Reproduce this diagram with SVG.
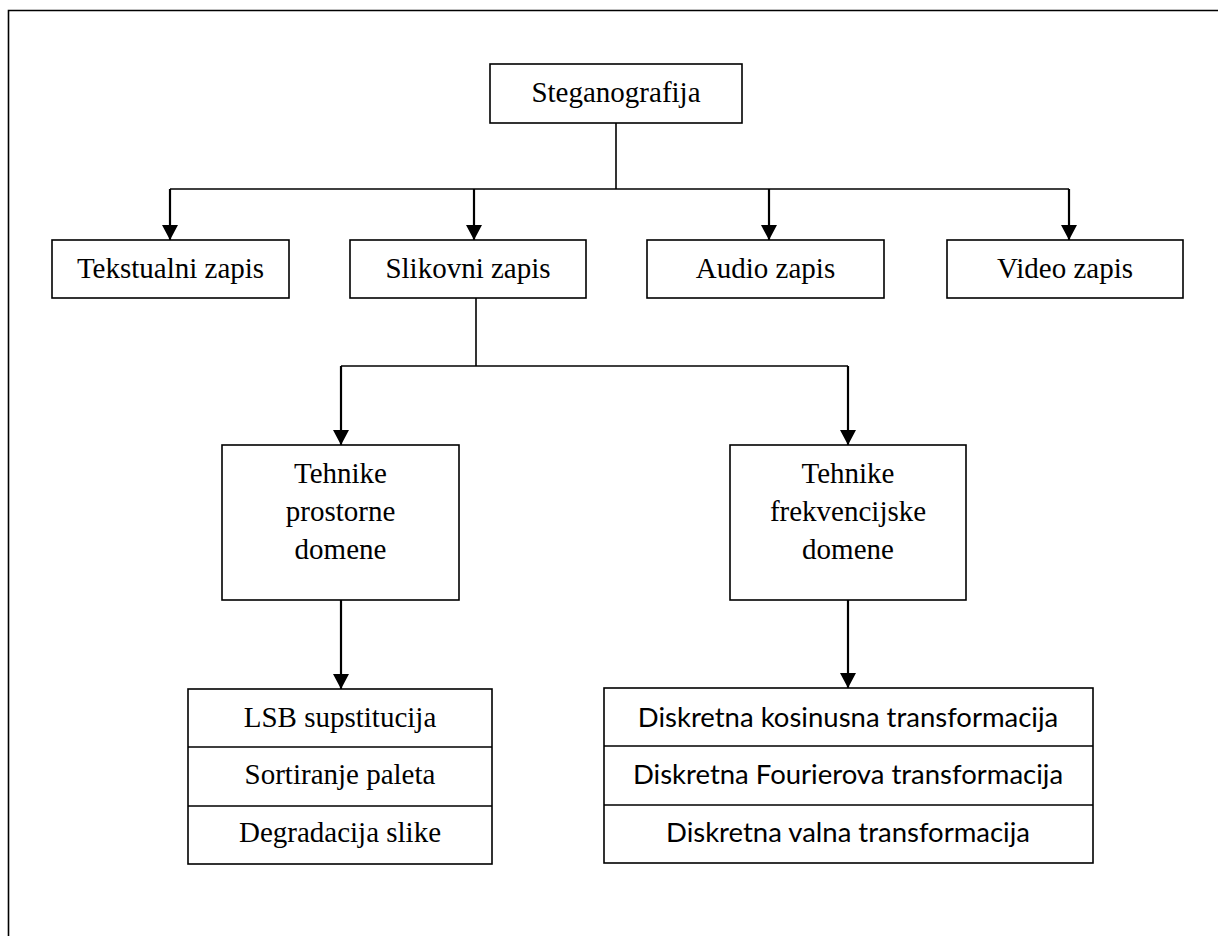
<svg xmlns="http://www.w3.org/2000/svg" width="1218" height="936" viewBox="0 0 1218 936">
<style>
.box{fill:#fff;stroke:#000;stroke-width:1.6}
.div{stroke:#000;stroke-width:1.6;fill:none}
.t{font-family:"Liberation Serif","Times New Roman",serif;font-size:29px;fill:#000;text-anchor:middle}
.c{font-family:Lato,"Noto Sans",sans-serif;font-size:27.5px;fill:#000;text-anchor:middle}
.ln{stroke:#000;stroke-width:1.6;fill:none}
.ar{stroke:#000;stroke-width:2.2;fill:none;marker-end:url(#ah)}
</style>
<defs>
<marker id="ah" viewBox="0 0 15 16" markerWidth="15" markerHeight="16" refX="15" refY="8" orient="auto" markerUnits="userSpaceOnUse">
<path d="M0,0 L15,8 L0,16 Z" fill="#000"/>
</marker>
</defs>
<rect width="1218" height="936" fill="#fff"/>
<path class="ln" d="M8.5,936 V10.5 H1218"/>

<g id="connectors">
<path class="ln" d="M616,123 V189"/>
<path class="ln" d="M170,189 H1069"/>
<path class="ar" d="M170,189 V240"/>
<path class="ar" d="M474,189 V240"/>
<path class="ar" d="M769,189 V240"/>
<path class="ar" d="M1069,189 V240"/>
<path class="ln" d="M476,298 V366"/>
<path class="ln" d="M341,366 H848"/>
<path class="ar" d="M341,366 V445"/>
<path class="ar" d="M848,366 V445"/>
<path class="ar" d="M341,600 V689"/>
<path class="ar" d="M848,600 V688"/>
</g>

<g id="steganografija">
<rect class="box" x="490" y="64" width="252" height="59"/>
<text class="t" x="616" y="102">Steganografija</text>
</g>
<g id="tekstualni">
<rect class="box" x="52" y="240" width="237" height="58"/>
<text class="t" x="170.5" y="278">Tekstualni zapis</text>
</g>
<g id="slikovni">
<rect class="box" x="350" y="240" width="236" height="58"/>
<text class="t" x="468" y="278">Slikovni zapis</text>
</g>
<g id="audio">
<rect class="box" x="647" y="240" width="237" height="58"/>
<text class="t" x="765.5" y="278">Audio zapis</text>
</g>
<g id="video">
<rect class="box" x="947" y="240" width="236" height="58"/>
<text class="t" x="1065" y="278">Video zapis</text>
</g>
<g id="prostorne">
<rect class="box" x="222" y="445" width="237" height="155"/>
<text class="t" x="340.5" y="483">Tehnike</text>
<text class="t" x="340.5" y="521">prostorne</text>
<text class="t" x="340.5" y="559">domene</text>
</g>
<g id="frekvencijske">
<rect class="box" x="730" y="445" width="236" height="155"/>
<text class="t" x="848" y="483">Tehnike</text>
<text class="t" x="848" y="521">frekvencijske</text>
<text class="t" x="848" y="559">domene</text>
</g>
<g id="prostorne-tehnike">
<rect class="box" x="188" y="689" width="304" height="175"/>
<path class="div" d="M188,747 H492 M188,806 H492"/>
<text class="t" x="340" y="727">LSB supstitucija</text>
<text class="t" x="340" y="784">Sortiranje paleta</text>
<text class="t" x="340" y="842">Degradacija slike</text>
</g>
<g id="frekvencijske-tehnike">
<rect class="box" x="604" y="688" width="489" height="175"/>
<path class="div" d="M604,746 H1093 M604,805 H1093"/>
<text class="c" x="848" y="727">Diskretna kosinusna transformacija</text>
<text class="c" x="848" y="784">Diskretna Fourierova transformacija</text>
<text class="c" x="848" y="842">Diskretna valna transformacija</text>
</g>
</svg>
